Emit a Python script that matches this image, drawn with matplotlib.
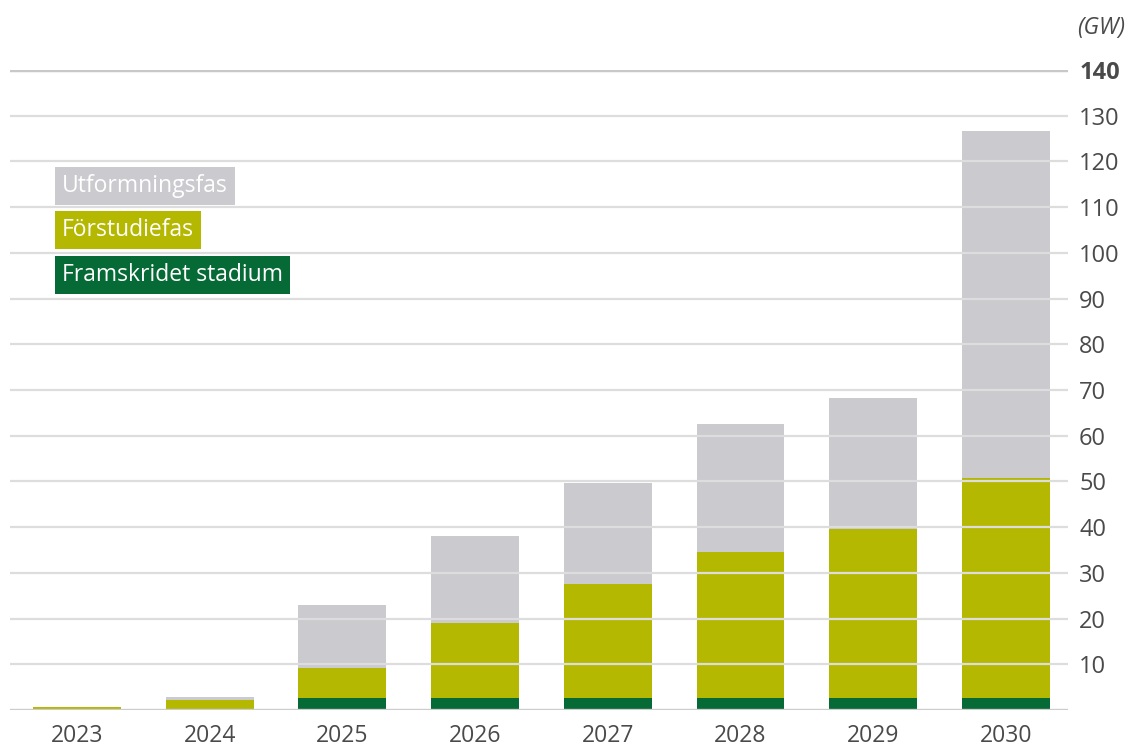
import matplotlib
matplotlib.use("Agg")
import matplotlib.pyplot as plt

years = ["2023", "2024", "2025", "2026", "2027", "2028", "2029", "2030"]
framskridet = [0.1, 0.3, 2.6, 2.6, 2.6, 2.6, 2.6, 2.6]
forstudie = [0.5, 1.9, 6.6, 16.4, 25.0, 32.0, 37.0, 48.2]
utformning = [0.0, 0.6, 13.8, 19.1, 22.1, 28.0, 28.7, 75.9]
yticks = [10, 20, 30, 40, 50, 60, 70, 80, 90, 100, 110, 120, 130, 140]
legend_labels = ["Utformningsfas", "Förstudiefas", "Framskridet stadium"]

c_gray = "#cbcacf"
c_olive = "#b5b800"
c_dark = "#056a35"
c_text = "#4a4a4a"

plt.rcParams['font.family'] = ['Open Sans', 'DejaVu Sans']

fig = plt.figure(figsize=(11.29, 7.48), dpi=100)
ax = fig.add_axes([10/1129, 1-710/748, (1068-10)/1129, (710-70)/748])

x = list(range(len(years)))
w = 0.663
b1 = framskridet
b2 = [a + b for a, b in zip(framskridet, forstudie)]
ax.bar(x, framskridet, w, color=c_dark, zorder=2, linewidth=0)
ax.bar(x, forstudie, w, bottom=b1, color=c_olive, zorder=2, linewidth=0)
ax.bar(x, utformning, w, bottom=b2, color=c_gray, zorder=2, linewidth=0)

for t in yticks:
    if t == 140:
        ax.axhline(t, color="#c8c8c8", lw=3.2, zorder=3)
    else:
        ax.axhline(t, color="#dddddd", lw=1.6, zorder=3)
ax.axhline(0, color="#cccccc", lw=2.4, zorder=3)

ax.set_xlim(-0.505, 7.468)
ax.set_ylim(0, 140)
for s in ax.spines.values():
    s.set_visible(False)

ax.set_xticks(x)
ax.set_xticklabels(years, fontsize=16.5, color=c_text)
ax.tick_params(axis='x', length=0, pad=10)
ax.yaxis.tick_right()
ax.set_yticks(yticks)
ax.set_yticklabels([str(t) for t in yticks], fontsize=17, color=c_text)
ax.tick_params(axis='y', length=0, pad=8)
lbl = ax.get_yticklabels()[-1]
lbl.set_fontweight('bold')

fig.text(1125/1129, 1-28/748, "(GW)", ha='right', va='center', fontsize=16.5,
         style='italic', color=c_text)

legend_colors = [c_gray, c_olive, c_dark]
legend_y = [186, 230, 275]
for lab, col, yy in zip(legend_labels, legend_colors, legend_y):
    fig.text(62/1129, 1-yy/748, lab, ha='left', va='center', fontsize=16.5,
             color='white',
             bbox=dict(boxstyle='square,pad=0.3', facecolor=col, edgecolor='none'))

fig.savefig("out.png", dpi=100)
